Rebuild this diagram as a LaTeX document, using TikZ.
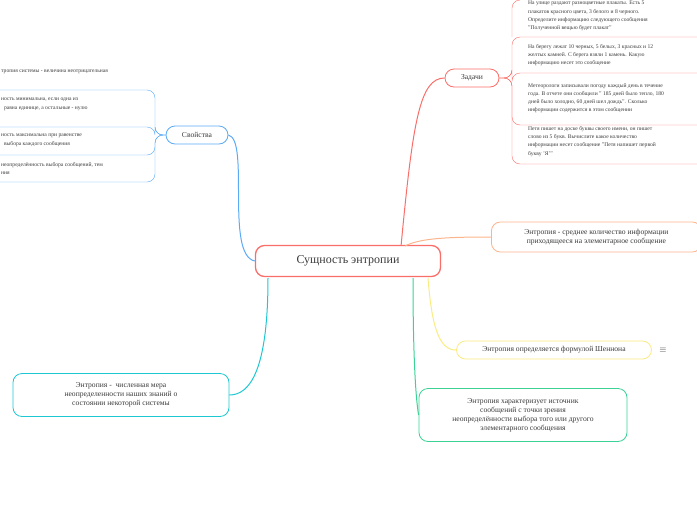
\documentclass[tikz,border=0pt]{standalone}
\usepackage{fontspec}
\setmainfont{Liberation Serif}
\usetikzlibrary{positioning}
\definecolor{taskred}{RGB}{250,110,105}
\definecolor{propblue}{RGB}{90,170,245}
\definecolor{avgorange}{RGB}{252,180,140}
\definecolor{shyellow}{RGB}{250,235,130}
\definecolor{srcgreen}{RGB}{60,210,150}
\definecolor{mscyan}{RGB}{30,200,210}
\definecolor{txtgray}{RGB}{60,60,60}
\tikzset{
  topic/.style={draw, rounded corners=9pt, line width=0.8pt, fill=white, align=center, text=txtgray, font=\fontsize{7.6}{9}\selectfont},
  leaf/.style={anchor=north west, align=left, text=txtgray, inner sep=0pt, font=\fontsize{5.6}{8.3}\selectfont},
  branch/.style={line width=1pt}
}
\begin{document}
\begin{tikzpicture}[x=1pt, y=-1pt]
  \useasboundingbox (0,0) rectangle (697,520);

  \node [topic, draw=taskred, line width=1.3pt, minimum width=185pt, minimum height=31pt, font=\fontsize{12}{14}\selectfont] (core) at (348,261) {Сущность энтропии};

  % tasks
  \node [topic, draw=taskred, minimum width=54pt, minimum height=18pt] (tasks) at (472,78) {Задачи};
  \draw [branch, taskred] (core.north east) ++(-40,0) .. controls (413,120) and (420,78) .. (tasks.west);
  \draw [taskred, rounded corners=8pt] (tasks.east) -- (512,78) |- (697,37);
  \draw [taskred, rounded corners=8pt] (tasks.east) -- (512,78) |- (697,73);
  \draw [taskred, rounded corners=8pt] (tasks.east) -- (512,78) |- (697,125);
  \draw [taskred, rounded corners=8pt] (tasks.east) -- (512,78) |- (697,164);
  \draw [taskred, rounded corners=8pt] (512,37) |- (520,0);
  \node [leaf] (t1) at (528,1) {На улице раздают разноцветные плакаты. Есть 5\\плакатов красного цвета, 3 белого и 8 черного.\\Определите информацию следующего сообщения\\"Полученной вещью будет плакат"};
  \node [leaf] (t2) at (528,44) {На берегу лежат 10 черных, 5 белых, 3 красных и 12\\желтых камней. С берега взяли 1 камень. Какую\\информацию несет это сообщение};
  \node [leaf] (t3) at (528,83) {Метеорологи записывали погоду каждый день в течение\\года. В отчете они сообщили " 185 дней было тепло, 180\\дней было холодно, 60 дней шел дождь". Сколько\\информации содержится в этом сообщении};
  \node [leaf] (t4) at (528,126) {Петя пишет на доске буквы своего имени, он пишет\\слово из 5 букв. Вычислите какое количество\\информации несет сообщение "Петя напишет первой\\букву 'Я'"};

  % properties
  \node [topic, draw=propblue, minimum width=62pt, minimum height=18pt] (props) at (197,135) {Свойства};
  \draw [branch, propblue] (core.west) .. controls (225,255) and (250,140) .. (props.east);
  \draw [propblue, rounded corners=8pt] (props.west) -- (155,135) |- (0,90);
  \draw [propblue, rounded corners=8pt] (props.west) -- (155,135) |- (0,127);
  \draw [propblue, rounded corners=8pt] (props.west) -- (155,135) |- (0,155);
  \draw [propblue, rounded corners=8pt] (props.west) -- (155,135) |- (0,182);
  \node [leaf] (p1) at (1,70) {тропия системы - величина неотрицательная};
  \node [leaf] (p2) at (1,98) {ность минимальна, если одна из\\\ \ равна единице, а остальные - нулю};
  \node [leaf] (p3) at (1,134) {ность максимальна при равенстве\\\ \ выбора каждого сообщения};
  \node [leaf] (p4) at (1,162) {неопределённость выбора сообщений, тем\\ния};

  % other topics
  \node [topic, draw=avgorange, minimum width=210pt, minimum height=30pt, anchor=west] (avg) at (491,237) {Энтропия - среднее количество информации\\приходящееся на элементарное сообщение};
  \draw [branch, avgorange] (405,246) .. controls (420,238) and (450,237) .. (avg.west);

  \node [topic, draw=shyellow, minimum width=195pt, minimum height=18pt] (shannon) at (554,350) {Энтропия определяется формулой Шеннона};
  \node [right=4pt of shannon, text=txtgray, font=\small] (shicon) {$\equiv$};
  \draw [branch, shyellow] (428,278) .. controls (432,330) and (440,350) .. (shannon.west);

  \node [topic, draw=srcgreen, minimum width=208pt, minimum height=53pt] (source) at (523,415) {Энтропия характеризует источник\\сообщений с точки зрения\\неопределённости выбора того или другого\\элементарного сообщения};
  \draw [branch, srcgreen] (413,278) .. controls (413,360) and (416,400) .. (source.west);

  \node [topic, draw=mscyan, minimum width=216pt, minimum height=43pt] (measure) at (121,395) {Энтропия - \ численная мера\\неопределенности наших знаний о\\состоянии некоторой системы};
  \draw [branch, mscyan] (268,278) .. controls (268,370) and (250,395) .. (measure.east);
\end{tikzpicture}
\end{document}
